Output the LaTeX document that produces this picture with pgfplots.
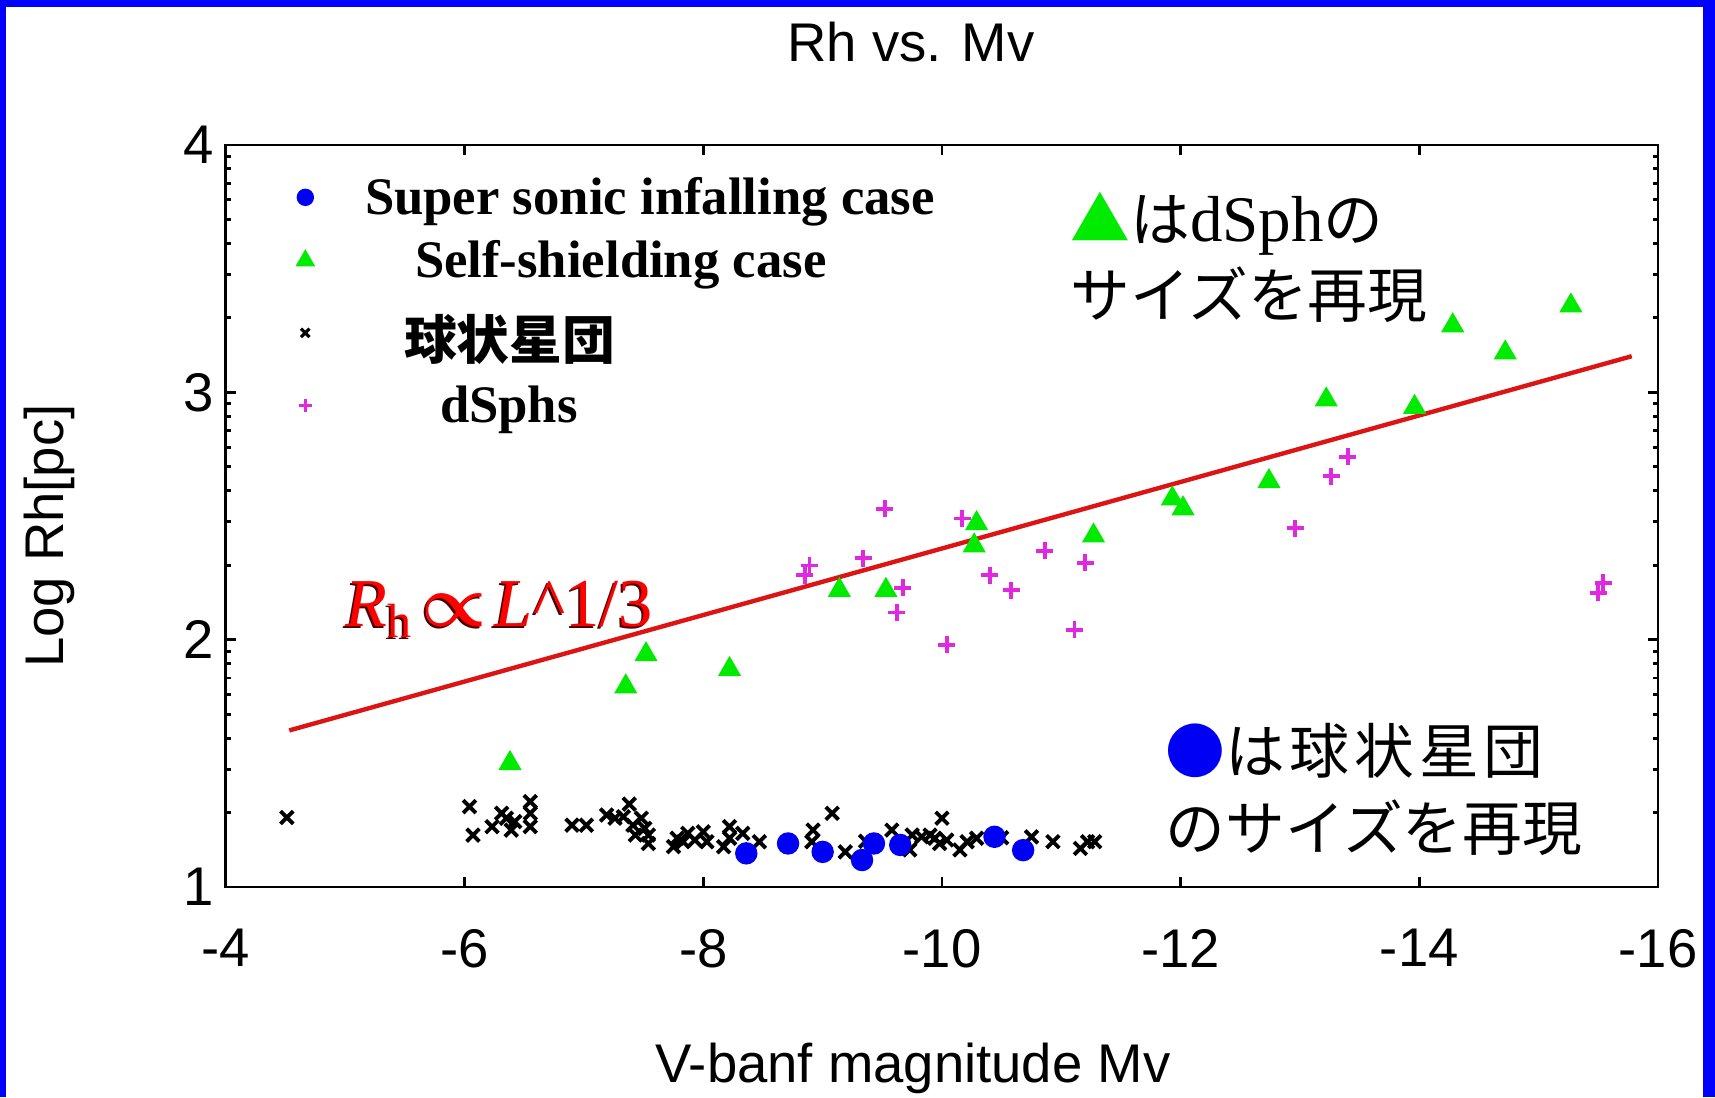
\documentclass[border=0pt]{standalone}
\usepackage{pgfplots}
\pgfplotsset{compat=1.18}
\usepackage{fontspec}
\setmainfont{Liberation Sans}
\newfontfamily\tnr{Liberation Serif}
\newfontfamily\cjk{Noto Sans CJK JP}

\definecolor{ptgreen}{RGB}{0,235,0}
\definecolor{ptmag}{RGB}{225,40,225}
\definecolor{ptblue}{RGB}{0,0,245}
\definecolor{fitred}{RGB}{220,20,20}

% globular clusters
\pgfplotstableread{
x y
-4.51 1.281
-6.04 1.325
-6.07 1.210
-6.23 1.244
-6.31 1.298
-6.35 1.278
-6.39 1.230
-6.42 1.264
-6.55 1.345
-6.55 1.298
-6.55 1.244
-6.90 1.250
-7.02 1.250
-7.19 1.291
-7.26 1.278
-7.33 1.284
-7.38 1.335
-7.41 1.250
-7.43 1.210
-7.48 1.278
-7.51 1.237
-7.54 1.210
-7.54 1.176
-7.75 1.163
-7.78 1.197
-7.83 1.183
-7.87 1.217
-7.93 1.190
-8.00 1.223
-8.03 1.183
-8.17 1.163
-8.22 1.244
-8.22 1.197
-8.33 1.217
-8.47 1.183
-8.92 1.230
-8.91 1.183
-9.08 1.298
-9.19 1.142
-9.36 1.185
-9.58 1.230
-9.73 1.150
-9.75 1.210
-9.83 1.203
-9.90 1.210
-9.94 1.197
-10.00 1.278
-9.98 1.176
-10.04 1.190
-10.15 1.150
-10.21 1.183
-10.29 1.197
-10.50 1.199
-10.75 1.203
-10.93 1.183
-11.16 1.156
-11.22 1.183
-11.28 1.183
}\gc

% dwarf spheroidals
\pgfplotstableread{
x y
-8.89 2.30
-8.85 2.26
-9.34 2.33
-9.52 2.53
-9.67 2.21
-9.62 2.11
-10.04 1.98
-10.17 2.49
-10.40 2.26
-10.58 2.20
-10.86 2.36
-11.11 2.04
-11.20 2.31
-12.96 2.45
-13.26 2.66
-13.40 2.74
-15.54 2.23
-15.50 2.19
}\dsph

% self-shielding case
\pgfplotstableread{
x y
-6.38 1.50
-7.35 1.81
-7.52 1.94
-8.22 1.88
-9.14 2.20
-9.53 2.20
-10.27 2.38
-10.29 2.47
-11.27 2.42
-11.93 2.57
-12.02 2.53
-12.74 2.64
-13.22 2.97
-13.96 2.94
-14.28 3.27
-14.72 3.16
-15.27 3.35
}\selfsh

% super sonic infalling case
\pgfplotstableread{
x y
-8.36 1.136
-8.71 1.176
-9.00 1.142
-9.33 1.109
-9.43 1.176
-9.65 1.170
-10.44 1.203
-10.68 1.149
}\sonic

\begin{document}
\begin{tikzpicture}
\useasboundingbox (0,0) rectangle (171.5mm,109.7mm);
\fill[blue] (0,0) rectangle (171.5mm,109.7mm);
\fill[white] (0.6mm,0) rectangle (170.3mm,109.0mm);

\begin{axis}[
  at={(22.6mm,21.0mm)}, anchor=south west,
  scale only axis, width=143.2mm, height=74.2mm,
  xmin=-16, xmax=-4, x dir=reverse,
  ymin=1, ymax=4,
  xtick={-16,-14,...,-4}, ytick={1,2,3,4},
  minor ytick={1.301,1.477,1.602,1.699,1.778,1.845,1.903,1.954,
               2.301,2.477,2.602,2.699,2.778,2.845,2.903,2.954,
               3.301,3.477,3.602,3.699,3.778,3.845,3.903,3.954},
  tick align=inside, major tick length=1mm, minor tick length=0.5mm,
  axis line style={line width=0.85pt},
  every tick/.style={black, line width=0.85pt},
  tick label style={font=\fontsize{15.5}{18}\selectfont},
  /pgf/number format/assume math mode=true,
  xticklabel style={yshift=-3mm},
  legend cell align=left,
  legend style={at={(axis description cs:0,1)}, anchor=north west,
    xshift=7.0mm, yshift=-2.9mm, draw=none, fill=none, inner sep=0pt,
    row sep=1.8mm, column sep=0pt, nodes={inner sep=0pt},
    font=\tnr\bfseries\fontsize{15}{17}\selectfont},
]
\addplot[only marks, mark=x, mark size=0.9mm, black, line width=1.1pt, forget plot] table {\gc};
\addplot[only marks, mark=+, mark size=0.85mm, ptmag, line width=1.1pt, forget plot] table {\dsph};
\addplot[only marks, mark=triangle*, mark size=1.2mm, ptgreen, forget plot] table {\selfsh};
\addplot[only marks, mark=*, mark size=1.05mm, ptblue, forget plot] table {\sonic};
\addplot[fitred, line width=1.25pt, forget plot] coordinates {(-4.53,1.633) (-15.78,3.146)};

\addlegendimage{only marks, mark=*, mark size=0.8mm, ptblue}
\addlegendentry{\hspace{5.1mm}\rule[-2.2mm]{0pt}{6.2mm}Super sonic infalling case}
\addlegendimage{only marks, mark=triangle*, mark size=1mm, ptgreen}
\addlegendentry{\hspace{10.1mm}\rule[-2.2mm]{0pt}{6.2mm}Self-shielding case}
\addlegendimage{only marks, mark=x, mark size=0.6mm, black, line width=0.9pt}
\addlegendentry{\hspace{9.0mm}\rule[-2.2mm]{0pt}{8.0mm}{\cjk\bfseries 球状星団}}
\addlegendimage{only marks, mark=+, mark size=0.65mm, ptmag, line width=0.9pt}
\addlegendentry{\hspace{12.6mm}\rule[-2.2mm]{0pt}{6.2mm}dSphs}
\end{axis}

% titles
\node[anchor=base, inner sep=0pt, font=\fontsize{15.5}{18}\selectfont] at (91.1mm,103.5mm) {Rh vs. Mv};
\node[anchor=base, inner sep=0pt, font=\fontsize{15.5}{18}\selectfont] at (91.3mm,1.4mm) {V-banf magnitude Mv};
\node[anchor=base, inner sep=0pt, rotate=90, font=\fontsize{15.5}{18}\selectfont] at (6.3mm,56.1mm) {Log Rh[pc]};

% fit label with shadow
\node[anchor=base west, inner sep=0pt, black!70!red, font=\tnr\fontsize{19.5}{24}\selectfont] at (34.3mm,46.8mm)
  {\textit{R}\textsubscript{h}\hspace{0.12em}{\boldmath$\propto$}\hspace{0.12em}\textit{L}\^{}1/3};
\node[anchor=base west, inner sep=0pt, red, font=\tnr\fontsize{19.5}{24}\selectfont] at (34.5mm,47.0mm)
  {\textit{R}\textsubscript{h}\hspace{0.12em}{\boldmath$\propto$}\hspace{0.12em}\textit{L}\^{}1/3};

% annotations
\node[anchor=base west, inner sep=0pt, font=\cjk\fontsize{17}{20}\selectfont] at (107.0mm,85.5mm)
  {\textcolor{ptgreen}{▲}は{\tnr\fontsize{18.5}{20}\selectfont dSph}の};
\node[anchor=base west, inner sep=0pt, font=\cjk\fontsize{17}{20}\selectfont] at (107.0mm,77.9mm)
  {サイズを再現};
\node[anchor=base west, inner sep=0pt, font=\cjk\fontsize{17}{20}\selectfont] at (116.5mm,32.3mm)
  {\textcolor{ptblue}{●}{\addfontfeature{LetterSpace=8}は球状星団}};
\node[anchor=base west, inner sep=0pt, font=\cjk\fontsize{17}{20}\selectfont] at (116.5mm,24.6mm)
  {のサイズを再現};
\end{tikzpicture}
\end{document}
